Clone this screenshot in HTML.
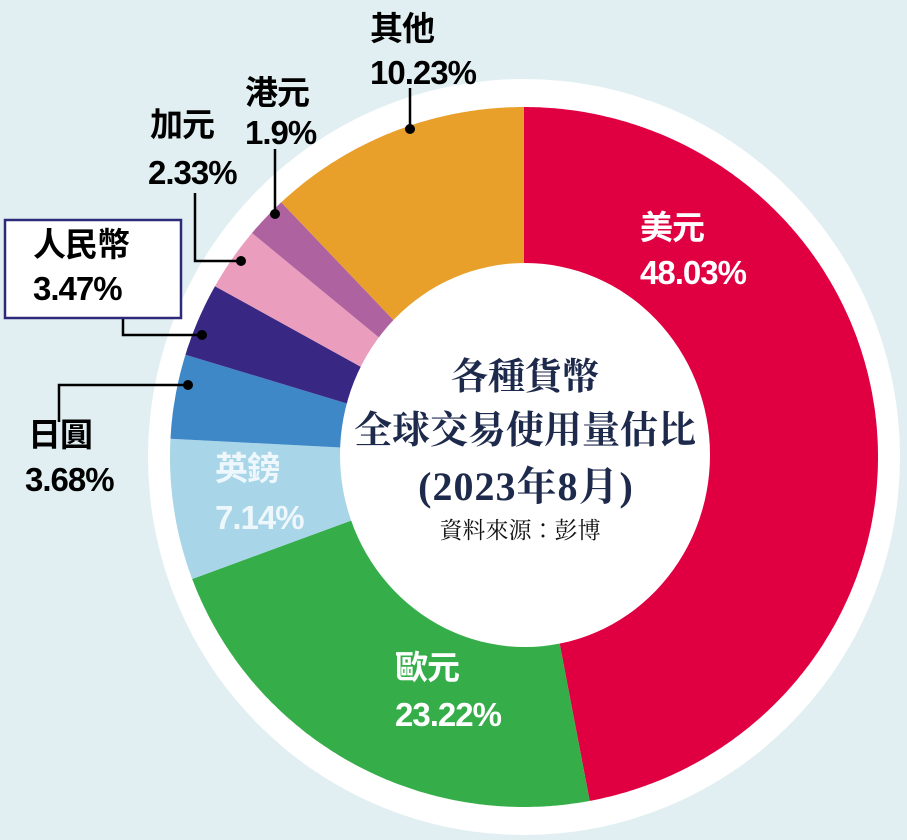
<!DOCTYPE html>
<html><head><meta charset="utf-8"><style>
html,body{margin:0;padding:0;background:#e1eff2;}
svg{display:block}
.l{font-family:"Liberation Sans","Noto Sans CJK TC",sans-serif;font-weight:bold;font-size:33px;letter-spacing:-1px}
.t{font-family:"Liberation Serif","Noto Serif CJK SC",serif;font-weight:bold;fill:#1e2a4c;text-anchor:middle}
</style></head><body>
<svg id="s" width="907" height="840" viewBox="0 0 907 840" xmlns="http://www.w3.org/2000/svg">
<rect width="907" height="840" fill="#e1eff2"/>
<ellipse cx="524" cy="457" rx="376" ry="378" fill="#fff"/>
<g id="pie"></g>
<ellipse cx="525" cy="455" rx="185" ry="192" fill="#fff"/>
<g stroke="#000" stroke-width="2.5" fill="none">
<polyline points="410,129 410,88"/>
<polyline points="275,214 275,149"/>
<polyline points="241,261 195,261 195,193"/>
<polyline points="202,335 123,335 123,318"/>
<polyline points="188,385 59,385 59,422"/>
</g>
<g fill="#000">
<circle cx="410" cy="129" r="5"/><circle cx="275" cy="214" r="5"/><circle cx="241" cy="261" r="5"/><circle cx="202" cy="335" r="5"/><circle cx="188" cy="385" r="5"/>
</g>
<rect x="5" y="220" width="176" height="98" fill="#fff" stroke="#2e2a7a" stroke-width="2.5"/>
<g class="l" fill="#000">
<text x="370" y="40">其他</text><text x="370" y="84">10.23%</text>
<text x="245" y="104">港元</text><text x="245" y="144">1.9%</text>
<text x="150" y="136">加元</text><text x="148" y="184">2.33%</text>
<text x="33" y="256">人民幣</text><text x="33" y="300">3.47%</text>
<text x="28" y="446">日圓</text><text x="25" y="491">3.68%</text>
</g>
<g class="l" fill="#fff">
<text x="640" y="239">美元</text><text x="640" y="284">48.03%</text>
<text x="395" y="679">歐元</text><text x="395" y="726">23.22%</text>
</g>
<g class="l" fill="#eef7fb">
<text x="215" y="480">英鎊</text><text x="215" y="529">7.14%</text>
</g>
<text class="t" x="525" y="389" font-size="37">各種貨幣</text>
<text class="t" x="525" y="443" font-size="38">全球交易使用量估比</text>
<text class="t" x="526" y="500" font-size="40" letter-spacing="1">(2023年8月)</text>
<text x="520" y="538" font-size="23" text-anchor="middle" fill="#111" font-family="'Liberation Serif','Noto Serif CJK TC',serif">資料來源：彭博</text>
</svg>
<script>
var cx=524,cy=457,rx=354,ry=350;
var b=[0,169.3,249.6,273,287,299.2,309.8,316.7,360];
var c=["#e00042","#35ae49","#a8d6e8","#3f88c8","#382884","#eb9dbd","#ae62a0","#e8a02a"];
var g=document.getElementById("pie");
function p(t){t=t*Math.PI/180;return (cx+rx*Math.sin(t)).toFixed(1)+","+(cy-ry*Math.cos(t)).toFixed(1);}
for(var i=0;i<8;i++){
 var pts=[cx+","+cy];
 for(var t=b[i];t<=b[i+1]+0.001;t+=0.5)pts.push(p(t));
 pts.push(p(b[i+1]));
 var e=document.createElementNS("http://www.w3.org/2000/svg","polygon");
 e.setAttribute("points",pts.join(" "));e.setAttribute("fill",c[i]);
 g.appendChild(e);
}
</script>
</body></html>
